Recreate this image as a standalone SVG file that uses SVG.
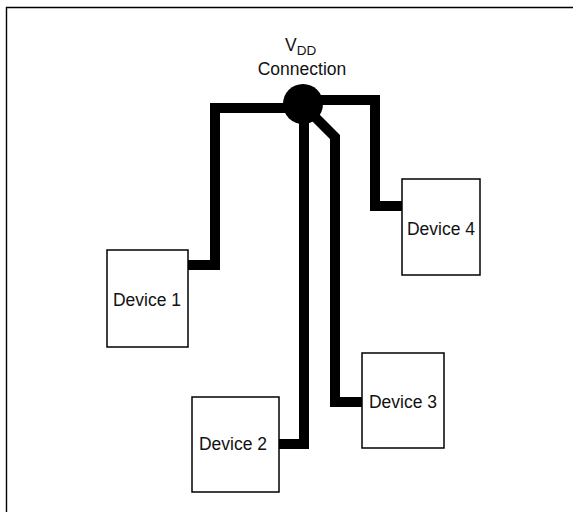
<svg xmlns="http://www.w3.org/2000/svg" width="573" height="512" viewBox="0 0 573 512">
<style>
.box{fill:#fff;stroke:#000;stroke-width:1.5}
.wire{fill:none;stroke:#000;stroke-width:10;stroke-linejoin:miter;stroke-linecap:butt}
text{font-family:"Liberation Sans",Arial,sans-serif;font-size:17.5px;fill:#111}
</style>
<rect width="573" height="512" fill="#fff"/>
<path d="M6.5,512 V7.5 H573" fill="none" stroke="#000" stroke-width="1.4"/>
<g id="connectors">
<path class="wire" d="M302,108 H215 V265 H188"/>
<path class="wire" d="M302,100 H375 V206 H402"/>
<path class="wire" d="M304,105 V444 H279"/>
<path class="wire" d="M303,105 L335,137 V402 H362"/>
</g>
<g id="vdd">
<circle cx="303" cy="104" r="20" fill="#000"/>
<text x="285" y="51">V<tspan font-size="13.5" dy="4">DD</tspan></text>
<text x="302" y="75" text-anchor="middle">Connection</text>
</g>
<g id="device1">
<rect class="box" x="107" y="250" width="81" height="97"/>
<text x="147" y="306" text-anchor="middle">Device 1</text>
</g>
<g id="device2">
<rect class="box" x="192" y="397" width="87" height="95"/>
<text x="233" y="450" text-anchor="middle">Device 2</text>
</g>
<g id="device3">
<rect class="box" x="362" y="353" width="82" height="95"/>
<text x="403" y="408" text-anchor="middle">Device 3</text>
</g>
<g id="device4">
<rect class="box" x="402" y="179" width="78" height="96"/>
<text x="441" y="235" text-anchor="middle">Device 4</text>
</g>
</svg>
